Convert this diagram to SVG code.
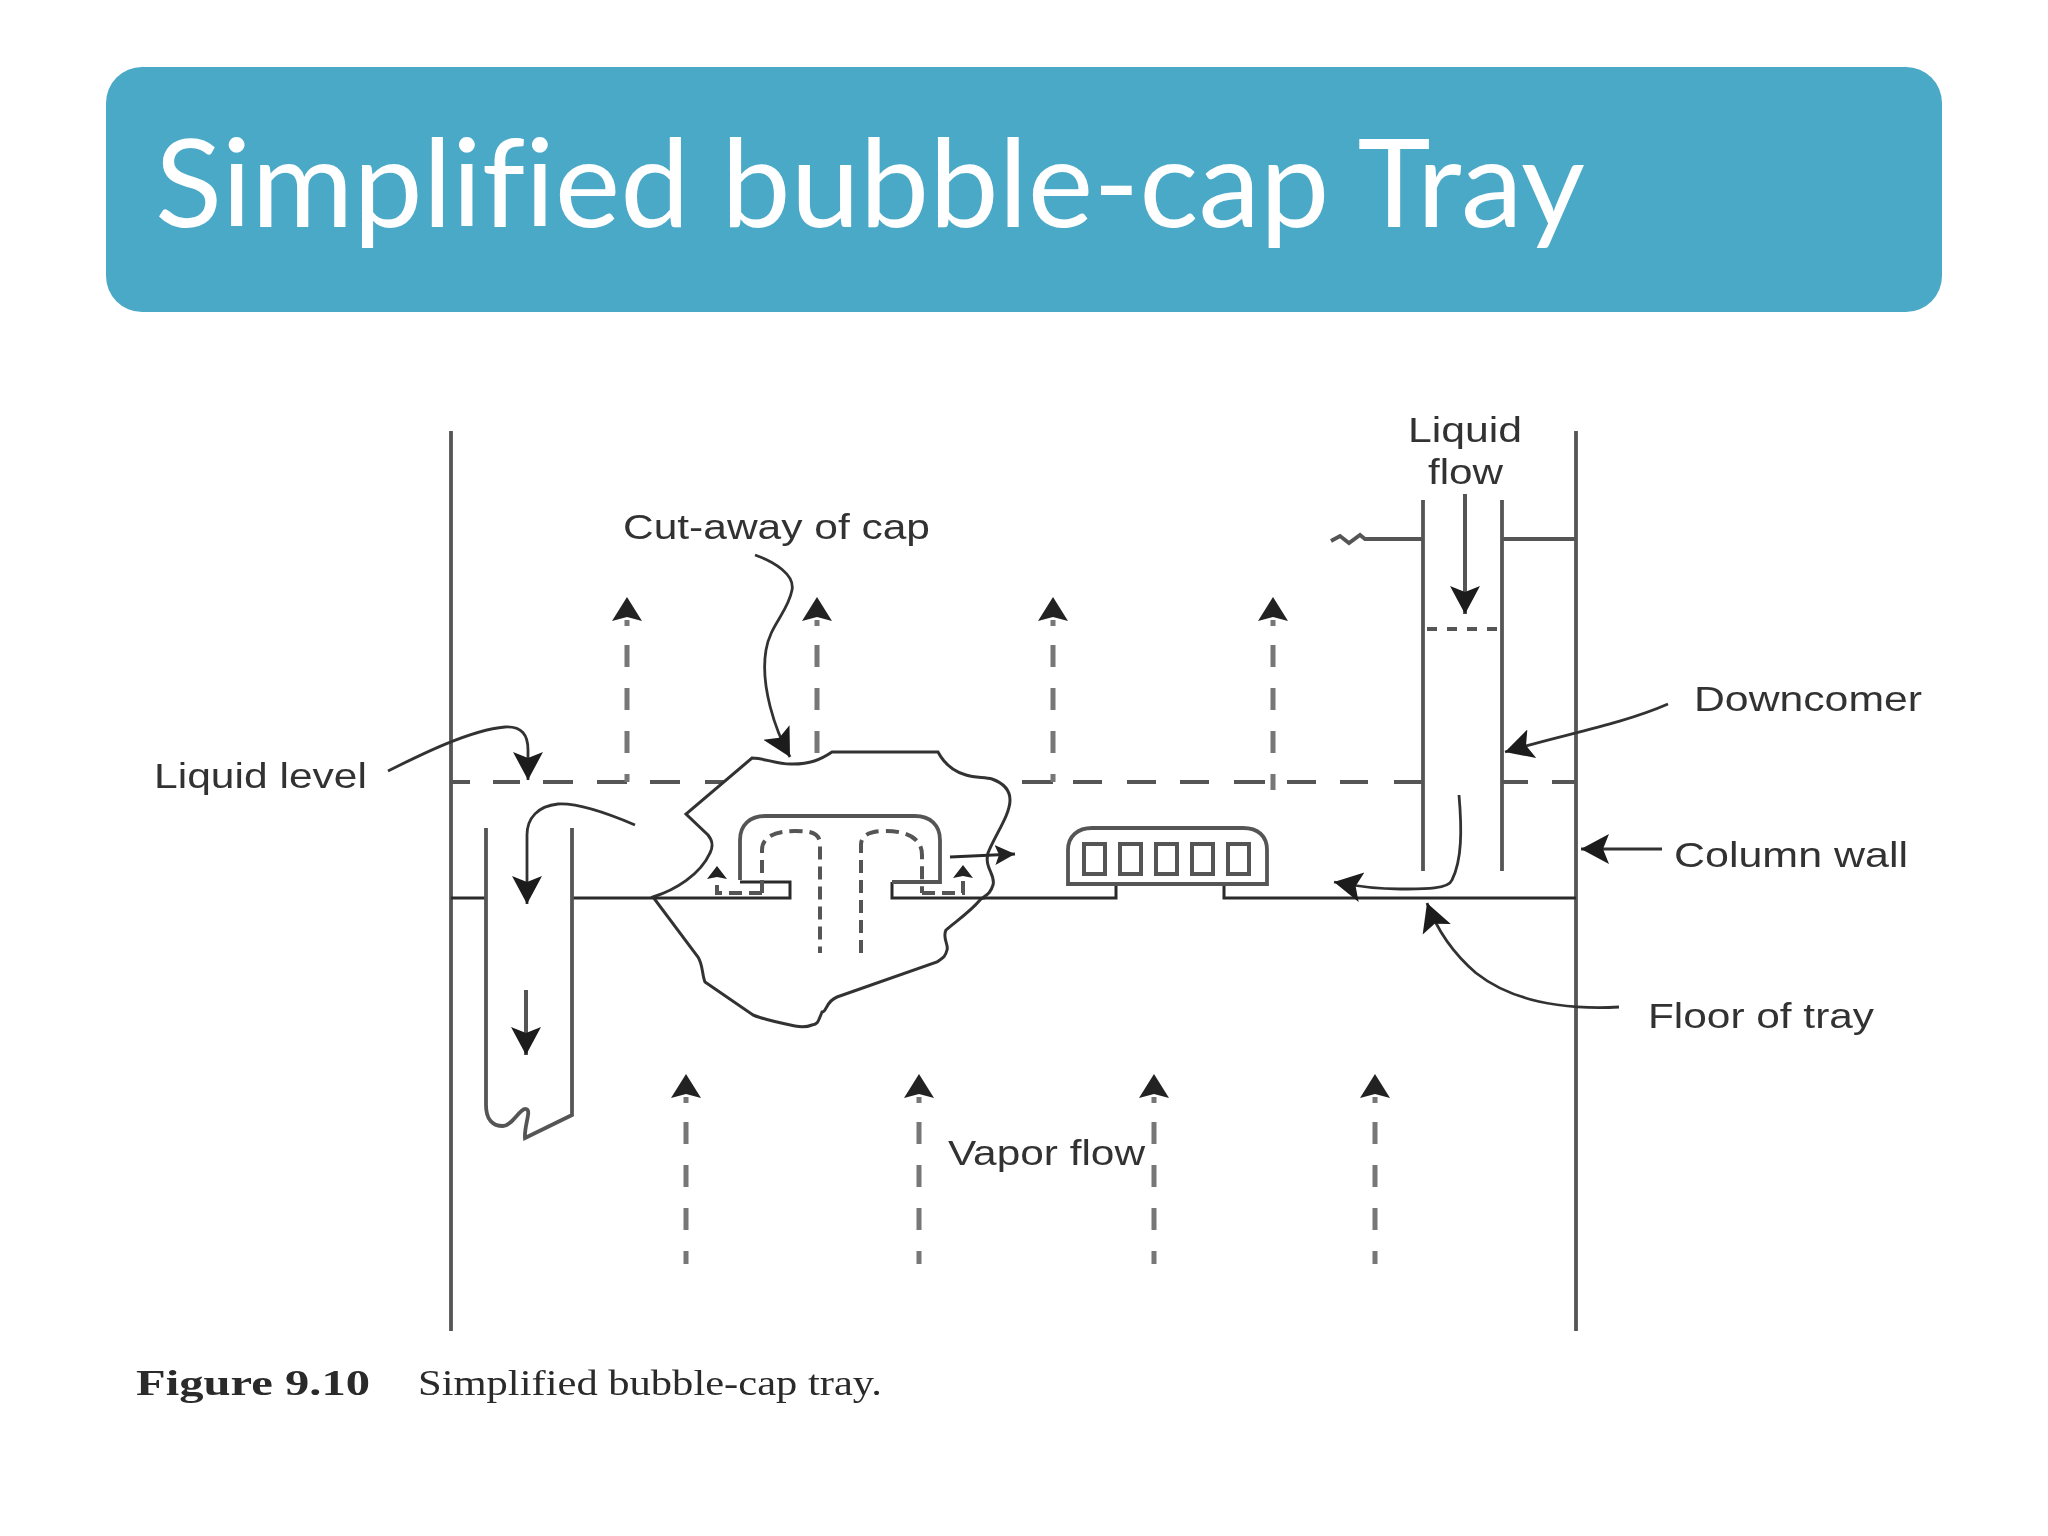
<svg xmlns="http://www.w3.org/2000/svg" width="2048" height="1536" viewBox="0 0 2048 1536">
<style>
.t{fill:none;stroke:#2c2c2c;stroke-width:3}
.c{fill:none;stroke:#555;stroke-width:3.8}
.v{stroke-dasharray:22 21;fill:none;stroke:#777;stroke-width:5}
.s{stroke-dasharray:13 7;fill:none;stroke:#555;stroke-width:4}
.a{marker-end:url(#h);fill:none;stroke:#333;stroke-width:2.8}
.b{marker-end:url(#h);fill:none;stroke:#555;stroke-width:4}
.n{fill:#333;font-family:"Liberation Sans",Arial,sans-serif;font-size:35px}
.f{fill:#2a2a2a;font-family:"Liberation Serif","Times New Roman",serif;font-size:36px}
</style>
<defs>
<filter id="soft" x="0" y="0" width="1" height="1"><feGaussianBlur stdDeviation="0.7"/></filter>
<marker id="h" markerUnits="userSpaceOnUse" markerWidth="36" markerHeight="36" refX="28" refY="18" orient="auto"><path d="M0,3 L28,18 L0,33 L6,18 Z" fill="#1c1c1c"/></marker>
<marker id="m" markerUnits="userSpaceOnUse" markerWidth="24" markerHeight="24" refX="20" refY="12" orient="auto"><path d="M0,2 L20,12 L0,22 L4,12 Z" fill="#222"/></marker>
<path id="up" d="M-15,24L0,0L15,24L0,20Z" fill="#222"/>
<path id="up2" d="M-10,12L0,-1L10,12L0,10Z" fill="#222"/>
</defs>
<rect width="2048" height="1536" fill="#fff"/>
<g id="title">
<rect x="106" y="67" width="1836" height="245" rx="36" fill="#4ba9c8"/>
<text x="155" y="227" font-family="Lato,'Open Sans',sans-serif" font-size="122" fill="#fff" style="font-variant-ligatures:none" textLength="1430" lengthAdjust="spacingAndGlyphs">Simplified bubble-cap Tray</text>
</g>
<g id="figure" filter="url(#soft)">
<g id="column-walls">
<path class="c" d="M451,431V1331M1576,431V1331"/>
</g>
<g id="liquid-level-line">
<path class="c" d="M451,782H470M493,782H520M543,782H573M597,782H627M650,782H680M705,782H725M1022,782H1053M1073,782H1102M1127,782H1156M1180,782H1209M1234,782H1265M1287,782H1316M1340,782H1368M1394,782H1423M1503,782H1528M1552,782H1576"/>
</g>
<g id="upper-vapor-arrows">
<path class="v" d="M627,620V626M817,620V626M1053,620V626M1273,620V626"/>
<path class="v" d="M627,645V782M817,645V760M1053,645V782M1273,645V790"/>
<use href="#up" x="627" y="597"/><use href="#up" x="817" y="597"/><use href="#up" x="1053" y="597"/><use href="#up" x="1273" y="597"/>
</g>
<g id="floor">
<path class="t" d="M451,898H486M572,898H653M892,898H1116V884M1224,884V898H1576"/>
</g>
<g id="left-downcomer">
<path class="c" d="M486,828V1105C486,1120 493,1126 503,1126C512,1126 520,1108 526,1109C532,1110 524,1125 525,1138L572,1115V828"/>
</g>
<g id="cut-away">
<path fill="#fff" stroke="#333" stroke-width="3" d="M653,897C675,890 700,875 710,853C714,845 712,840 708,835L686,814L752,758C765,758 778,765 793,764C810,764 820,760 832,752H938C945,765 955,772 966,775C975,778 985,777 992,779C1003,783 1010,790 1010,800C1010,815 995,835 988,853C984,868 996,875 993,885C990,895 985,895 980,900C970,912 955,922 946,930C942,938 949,945 947,950C945,958 942,958 937,962L837,997C825,1002 827,1012 822,1012C818,1022 818,1024 812,1025C805,1028 800,1027 795,1026C780,1023 765,1020 753,1015L705,982C702,975 703,965 698,957L653,897Z"/>
<path class="t" d="M653,898H790V882H740M892,882V898H985"/>
<path class="c" stroke-width="4.5" d="M740,880V840C740,825 750,816 765,816H915C930,816 940,825 940,840V882H892"/>
<path class="s" d="M762,893V850C762,840 770,831 795,831C812,831 820,833 820,845V953M861,953V845C861,835 870,831 885,831C910,831 922,840 922,855V893"/>
<path class="s" stroke-width="3" stroke-dasharray="10 5" d="M762,893H717V878M922,893H963V876"/>
<use href="#up2" x="717" y="867"/><use href="#up2" x="963" y="866"/>
<path class="t" marker-end="url(#m)" d="M950,857L1015,854"/>
</g>
<g id="second-cap">
<path class="c" stroke-width="4" d="M1068,884V850C1068,836 1078,828 1092,828H1243C1258,828 1267,836 1267,850V884Z"/>
<g fill="none" stroke="#555" stroke-width="4">
<rect x="1084" y="844" width="21" height="30"/>
<rect x="1120" y="844" width="21" height="30"/>
<rect x="1156" y="844" width="21" height="30"/>
<rect x="1192" y="844" width="21" height="30"/>
<rect x="1228" y="844" width="21" height="30"/>
</g>
</g>
<g id="right-downcomer">
<path class="c" d="M1423,500V871M1502,500V871M1502,539H1576"/>
<path class="c" stroke-width="3.5" d="M1423,539H1365L1360,535L1349,543L1340,536L1331,541"/>
<path class="c" stroke-dasharray="10 10" d="M1427,629H1502"/>
</g>
<g id="lower-vapor-arrows">
<path class="v" d="M686,1097V1103M919,1097V1103M1154,1097V1103M1375,1097V1103"/>
<path class="v" d="M686,1122V1264M919,1122V1264M1154,1122V1264M1375,1122V1264"/>
<use href="#up" x="686" y="1074"/><use href="#up" x="919" y="1074"/><use href="#up" x="1154" y="1074"/><use href="#up" x="1375" y="1074"/>
</g>
<g id="connectors">
<path class="a" d="M388,771C420,755 470,730 505,727C522,726 528,735 528,750V780"/>
<path class="a" d="M635,825C600,810 575,803 558,804C538,806 527,818 527,835V904"/>
<path class="b" d="M526,990V1055"/>
<path class="a" d="M755,555C775,562 795,575 792,590C788,612 770,625 766,650C760,685 775,730 790,757"/>
<path class="b" stroke-width="3.5" d="M1465,494V614"/>
<path class="a" d="M1459,795C1462,830 1462,860 1452,880C1448,890 1420,889 1400,889C1385,889 1360,887 1334,882"/>
<path class="a" d="M1668,704C1620,725 1560,735 1505,752"/>
<path class="a" d="M1662,849H1581"/>
<path class="a" d="M1619,1007C1560,1010 1510,1000 1476,973C1455,955 1437,930 1427,903"/>
</g>
<g id="labels">
<text class="n" x="623" y="539" textLength="307" lengthAdjust="spacingAndGlyphs">Cut-away of cap</text>
<text class="n" x="154" y="788" textLength="213" lengthAdjust="spacingAndGlyphs">Liquid level</text>
<text class="n" x="1408" y="442" textLength="114" lengthAdjust="spacingAndGlyphs">Liquid</text>
<text class="n" x="1428" y="484" textLength="75" lengthAdjust="spacingAndGlyphs">flow</text>
<text class="n" x="1694" y="711" textLength="228" lengthAdjust="spacingAndGlyphs">Downcomer</text>
<text class="n" x="1674" y="867" textLength="234" lengthAdjust="spacingAndGlyphs">Column wall</text>
<text class="n" x="1648" y="1028" textLength="226" lengthAdjust="spacingAndGlyphs">Floor of tray</text>
<text class="n" x="948" y="1165" textLength="197" lengthAdjust="spacingAndGlyphs">Vapor flow</text>
<text class="f" x="136" y="1395" font-weight="bold" font-size="40" textLength="234" lengthAdjust="spacingAndGlyphs">Figure 9.10</text>
<text class="f" x="418" y="1395" font-size="38" textLength="464" lengthAdjust="spacingAndGlyphs">Simplified bubble-cap tray.</text>
</g>
</g>
</svg>
